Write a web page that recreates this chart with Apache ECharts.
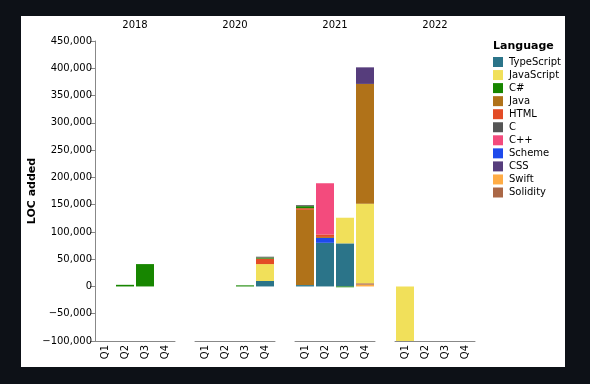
<!DOCTYPE html>
<html>
<head>
<meta charset="utf-8">
<script src="https://cdn.jsdelivr.net/npm/echarts@6/dist/echarts.min.js"></script>
<style>
  html, body { margin: 0; padding: 0; background: #0d1117; }
  #wrap { position: relative; width: 590px; height: 384px; background: #0d1117; }
  #paper { position: absolute; left: 21px; top: 16px; width: 544px; height: 351px; background: #ffffff; }
  #chart { position: absolute; left: 0; top: 0; width: 590px; height: 384px; }
</style>
</head>
<body>
<div id="wrap"><div id="paper"></div><div id="chart"></div></div>
<script>
// ---- data ----
const years = ['2018', '2020', '2021', '2022'];
const quarters = ['Q1', 'Q2', 'Q3', 'Q4'];
const yTicks = { min: -100000, max: 450000, step: 50000 };
const legendOrder = ['TypeScript', 'JavaScript', 'C#', 'Java', 'HTML', 'C', 'C++', 'Scheme', 'CSS', 'Swift', 'Solidity'];
// stacked from the bottom up (reverse alphabetical)
const stackOrder = ['TypeScript', 'Swift', 'Solidity', 'Scheme', 'JavaScript', 'Java', 'HTML', 'CSS', 'C++', 'C#', 'C'];

// values per year (2018, 2020, 2021, 2022), each Q1..Q4
const TypeScript = [[0, 0, 0, 0], [0, 0, 0, 10000], [2500, 80000, 79000, 0], [0, 0, 0, 0]];
const JavaScript = [[0, 0, 0, 0], [0, 0, 0, 31000], [0, 0, 47000, 146000], [-100000, 0, 0, 0]];
const CSharp     = [[0, 3000, 41000, 0], [0, 0, 2000, 2000], [3700, 0, -1500, 0], [0, 0, 0, 0]];
const Java       = [[0, 0, 0, 0], [0, 0, 0, 0], [138000, 1800, 0, 219500], [0, 0, 0, 0]];
const HTML       = [[0, 0, 0, 0], [0, 0, 0, 10000], [3000, 4500, 0, 0], [0, 0, 0, 0]];
const C          = [[0, 0, 0, 0], [0, 0, 0, 1500], [1800, 0, 0, 0], [0, 0, 0, 0]];
const Cpp        = [[0, 0, 0, 0], [0, 0, 0, 0], [0, 94000, 0, 0], [0, 0, 0, 0]];
const Scheme     = [[0, 0, 0, 0], [0, 0, 0, 0], [0, 9000, 0, 0], [0, 0, 0, 0]];
const CSS        = [[0, 0, 0, 0], [0, 0, 0, 0], [0, 0, 0, 30400], [0, 0, 0, 0]];
const Swift      = [[0, 0, 0, 0], [0, 0, 0, 0], [0, 0, 0, 3300], [0, 0, 0, 0]];
const Solidity   = [[0, 0, 0, 0], [0, 0, 0, 0], [0, 0, 0, 2500], [0, 0, 0, 0]];

const values = {
  'TypeScript': TypeScript, 'JavaScript': JavaScript, 'C#': CSharp, 'Java': Java,
  'HTML': HTML, 'C': C, 'C++': Cpp, 'Scheme': Scheme, 'CSS': CSS,
  'Swift': Swift, 'Solidity': Solidity
};
const colors = {
  'TypeScript': '#2b7489', 'JavaScript': '#f1e05a', 'C#': '#178600', 'Java': '#b07219',
  'HTML': '#e34c26', 'C': '#555555', 'C++': '#f34b7d', 'Scheme': '#1e4aec',
  'CSS': '#563d7c', 'Swift': '#ffac45', 'Solidity': '#aa6746'
};

// ---- chart ----
const FONT = 'DejaVu Sans';
const chart = echarts.init(document.getElementById('chart'), null, { renderer: 'canvas' });

const gridLefts = [95, 195, 295, 395];
const grids = gridLefts.map(l => ({ left: l, top: 41, width: 80, height: 300 }));

const xAxes = years.map((y, i) => ({
  type: 'category', gridIndex: i, data: quarters,
  axisLine: { onZero: false, lineStyle: { color: '#888', width: 1 } },
  axisTick: { alignWithLabel: true, length: 5, lineStyle: { color: '#888' } },
  axisLabel: { rotate: 90, fontSize: 10, color: '#000', fontFamily: FONT, margin: 4 },
  splitLine: { show: false }
}));

const fmt = v => (v < 0 ? '\u2212' : '') + Math.abs(v).toLocaleString('en-US');
const yAxes = years.map((y, i) => ({
  type: 'value', gridIndex: i, min: yTicks.min, max: yTicks.max, interval: yTicks.step,
  show: i === 0,
  name: i === 0 ? 'LOC added' : '',
  nameLocation: 'middle', nameGap: 57,
  nameTextStyle: { fontSize: 11, fontWeight: 'bold', color: '#000', fontFamily: FONT },
  axisLine: { show: true, lineStyle: { color: '#888' } },
  axisTick: { show: true, length: 5, lineStyle: { color: '#888' } },
  axisLabel: { fontSize: 10, color: '#000', fontFamily: FONT, margin: 3, formatter: fmt },
  splitLine: { show: false }
}));

const series = [];
years.forEach((yr, gi) => {
  stackOrder.forEach(lang => {
    series.push({
      name: lang, type: 'bar', xAxisIndex: gi, yAxisIndex: gi,
      stack: 'g' + gi, barCategoryGap: '10%',
      itemStyle: { color: colors[lang] },
      data: values[lang][gi].map(v => (v === 0 ? '-' : v)),
      emphasis: { disabled: true }
    });
  });
});

const graphics = years.map((y, i) => ({
  type: 'text', x: gridLefts[i] + 40, y: 25,
  style: { text: y, font: '10px "' + FONT + '"', fill: '#000', textAlign: 'center', textVerticalAlign: 'middle' }
}));
graphics.push({
  type: 'text', x: 493, y: 46,
  style: { text: 'Language', font: 'bold 11px "' + FONT + '"', fill: '#000', textAlign: 'left', textVerticalAlign: 'middle' }
});

chart.setOption({
  animation: false,
  backgroundColor: 'transparent',
  grid: grids,
  xAxis: xAxes,
  yAxis: yAxes,
  series: series,
  graphic: graphics,
  legend: {
    data: legendOrder, orient: 'vertical', left: 493, top: 57, padding: 0,
    itemWidth: 10, itemHeight: 10, itemGap: 3.05, icon: 'rect',
    textStyle: { fontSize: 10, color: '#000', fontFamily: FONT, padding: [0, 0, 0, 1] },
    selectedMode: false
  }
});
</script>
</body>
</html>
